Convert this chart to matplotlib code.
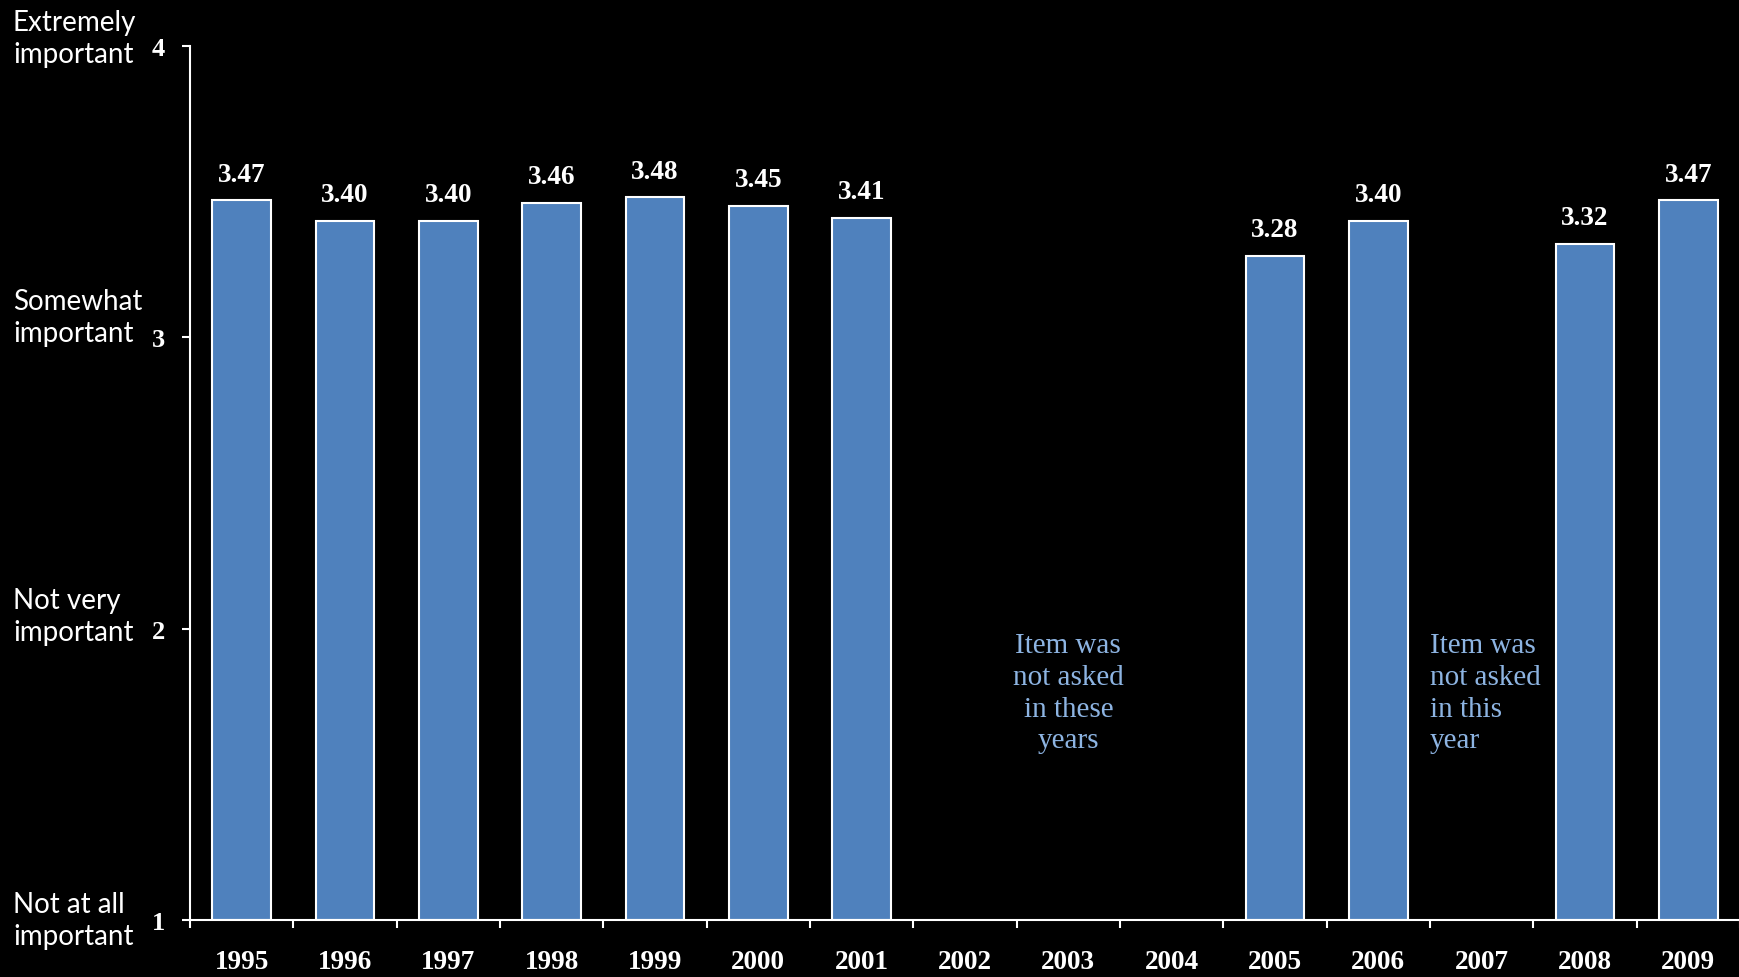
import numpy as np
import matplotlib
matplotlib.use("Agg")
from matplotlib import pyplot as plt

# data
years = ["1995", "1996", "1997", "1998", "1999", "2000", "2001", "2002",
         "2003", "2004", "2005", "2006", "2007", "2008", "2009"]
values = [3.47, 3.40, 3.40, 3.46, 3.48, 3.45, 3.41, np.nan,
          np.nan, np.nan, 3.28, 3.40, np.nan, 3.32, 3.47]
y_ticks = [1, 2, 3, 4]
y_names = ["Not at all\nimportant", "Not very\nimportant",
           "Somewhat\nimportant", "Extremely\nimportant"]
note_gap = "Item was\nnot asked\nin these\nyears"
note_one = "Item was\nnot asked\nin this\nyear"

bar_col = "#4F81BD"
note_col = "#8DB4E2"
serif = "Liberation Serif"

fig = plt.figure(figsize=(17.4, 9.78), dpi=100, facecolor="black")
ax = fig.add_axes([190/1740, 1-921/978, 1-190/1740, (921-47)/978])
ax.set_facecolor("black")

x = np.arange(len(years))
ax.bar(x, np.array(values) - 1, bottom=1, width=0.57, color=bar_col,
       edgecolor="white", linewidth=1.5)

for xi, v in zip(x, values):
    if np.isnan(v):
        continue
    ax.annotate(f"{v:.2f}", (xi, v), xytext=(0, 10), textcoords="offset points",
                ha="center", va="bottom", color="white", fontsize=19.5,
                fontweight="bold", family=serif)

ax.set_xlim(-0.5, len(years) - 0.5)
ax.set_ylim(1, 4)

ax.set_xticks(x)
ax.set_xticklabels(years, family=serif, fontweight="bold", fontsize=19.5, color="white")
ax.set_xticks(np.arange(-0.5, len(years)), minor=True)
ax.tick_params(axis="x", which="major", length=0, pad=21)
ax.tick_params(axis="x", which="minor", length=6, width=1.5, color="white", direction="out")

ax.set_yticks(y_ticks)
ax.set_yticklabels([str(t) for t in y_ticks], family=serif, fontweight="bold",
                   fontsize=19, color="white")
ax.tick_params(axis="y", length=6, width=1.5, color="white", pad=12)

for s in ["top", "right"]:
    ax.spines[s].set_visible(False)
for s in ["left", "bottom"]:
    ax.spines[s].set_color("white")
    ax.spines[s].set_linewidth(1.5)

# category names on the left
name_y = [921, 617, 318, 39]
for ny, name in zip(name_y, y_names):
    fig.text(13/1740, 1 - ny/978, name, ha="left", va="center", color="white",
             fontsize=20, family="Lato", linespacing=1.3)

ax.text(8, 1.78, note_gap, ha="center", va="center", color=note_col,
        fontsize=21, family=serif, linespacing=1.28)
ax.text(11.5, 1.78, note_one, ha="left", va="center", color=note_col,
        fontsize=21, family=serif, linespacing=1.28)

fig.savefig("out.png", dpi=100, facecolor="black")
